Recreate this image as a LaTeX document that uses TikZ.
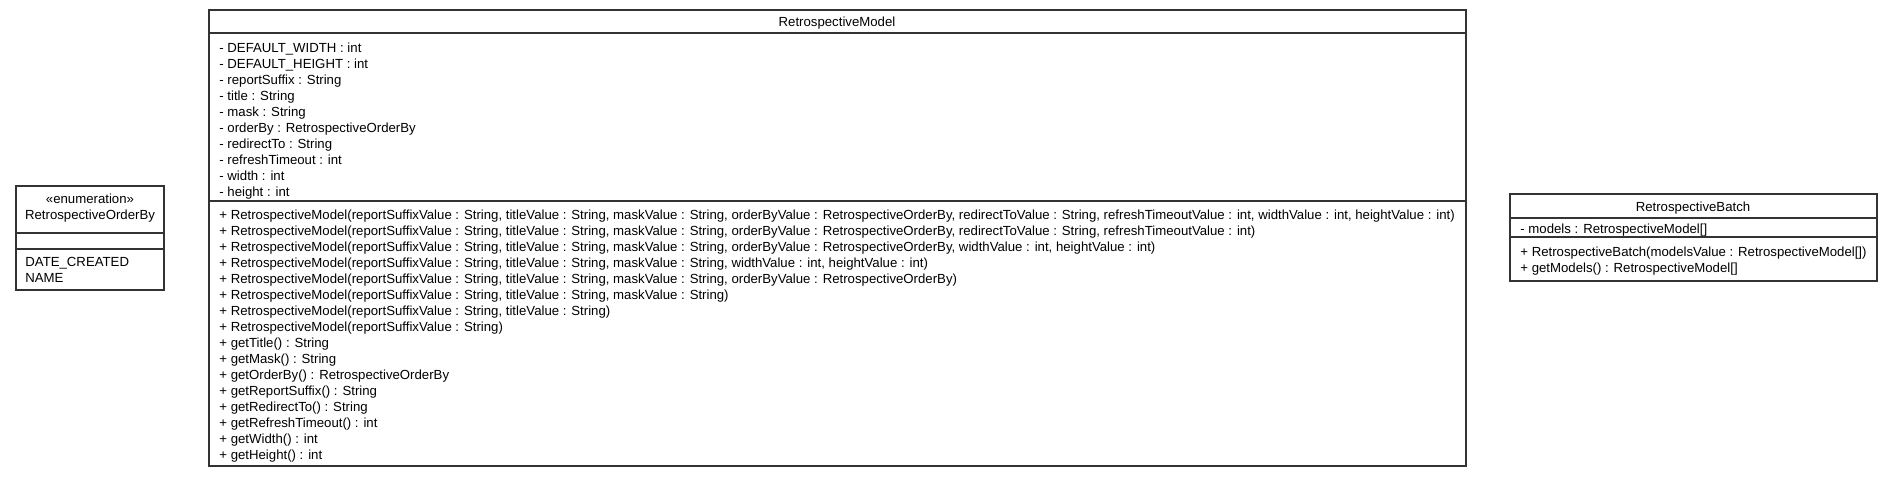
\documentclass[tikz,border=0pt]{standalone}
\usepackage{fontspec}
\setmainfont{Liberation Sans}
\begin{document}
\begin{tikzpicture}[x=0.5pt,y=-0.5pt,font=\fontsize{6.6}{8}\selectfont,
  box/.style={draw=black!80,line width=0.8pt},
  lbl/.style={anchor=base west,inner sep=0pt},
  ttl/.style={anchor=base,inner sep=0pt}]
\useasboundingbox (0,0) rectangle (1893,477);
%RetrospectiveOrderBy
\path (16,186) coordinate (e1) (164,233) coordinate (e2) (164,249) coordinate (e3) (164,290) coordinate (e4);
\draw[box] (e1) rectangle (e4) (e1 |- e2) -- (e2) (e1 |- e3) -- (e3);
\node[ttl] (etype) at (90,203) {«enumeration»};
\node[ttl] (ename) at (90,219) {RetrospectiveOrderBy};
\foreach \t [count=\i] in {DATE\_CREATED,NAME}
  \node[lbl] (lit\i) at (25,{250+16*\i}) {\t};
%RetrospectiveModel
\path (209,10) coordinate (m1) (1466,33) coordinate (m2) (1466,201) coordinate (m3) (1466,466) coordinate (m4);
\draw[box] (m1) rectangle (m4) (m1 |- m2) -- (m2) (m1 |- m3) -- (m3);
\node[ttl] (mname) at (837,26) {RetrospectiveModel};
\foreach \t [count=\i] in {- DEFAULT\_WIDTH : int,- DEFAULT\_HEIGHT : int,- reportSuffix : String,
  - title : String,- mask : String,- orderBy : RetrospectiveOrderBy,- redirectTo : String,
  - refreshTimeout : int,- width : int,- height : int}
  \node[lbl] (mattr\i) at (219,{36+16*\i}) {\t};
\foreach \t [count=\i] in {
  {+ RetrospectiveModel(reportSuffixValue : String, titleValue : String, maskValue : String, orderByValue : RetrospectiveOrderBy, redirectToValue : String, refreshTimeoutValue : int, widthValue : int, heightValue : int)},
  {+ RetrospectiveModel(reportSuffixValue : String, titleValue : String, maskValue : String, orderByValue : RetrospectiveOrderBy, redirectToValue : String, refreshTimeoutValue : int)},
  {+ RetrospectiveModel(reportSuffixValue : String, titleValue : String, maskValue : String, orderByValue : RetrospectiveOrderBy, widthValue : int, heightValue : int)},
  {+ RetrospectiveModel(reportSuffixValue : String, titleValue : String, maskValue : String, widthValue : int, heightValue : int)},
  {+ RetrospectiveModel(reportSuffixValue : String, titleValue : String, maskValue : String, orderByValue : RetrospectiveOrderBy)},
  {+ RetrospectiveModel(reportSuffixValue : String, titleValue : String, maskValue : String)},
  {+ RetrospectiveModel(reportSuffixValue : String, titleValue : String)},
  {+ RetrospectiveModel(reportSuffixValue : String)},
  + getTitle() : String,+ getMask() : String,+ getOrderBy() : RetrospectiveOrderBy,
  + getReportSuffix() : String,+ getRedirectTo() : String,+ getRefreshTimeout() : int,
  + getWidth() : int,+ getHeight() : int}
  \node[lbl] (mop\i) at (219,{203+16*\i}) {\t};
%RetrospectiveBatch
\path (1510,194) coordinate (b1) (1877,218) coordinate (b2) (1877,237) coordinate (b3) (1877,281) coordinate (b4);
\draw[box] (b1) rectangle (b4) (b1 |- b2) -- (b2) (b1 |- b3) -- (b3);
\node[ttl] (bname) at (1693,211) {RetrospectiveBatch};
\node[lbl] (battr1) at (1520,233) {- models : RetrospectiveModel[]};
\foreach \t [count=\i] in {{+ RetrospectiveBatch(modelsValue : RetrospectiveModel[])},{+ getModels() : RetrospectiveModel[]}}
  \node[lbl] (bop\i) at (1520,{240+16*\i}) {\t};
\end{tikzpicture}
\end{document}
